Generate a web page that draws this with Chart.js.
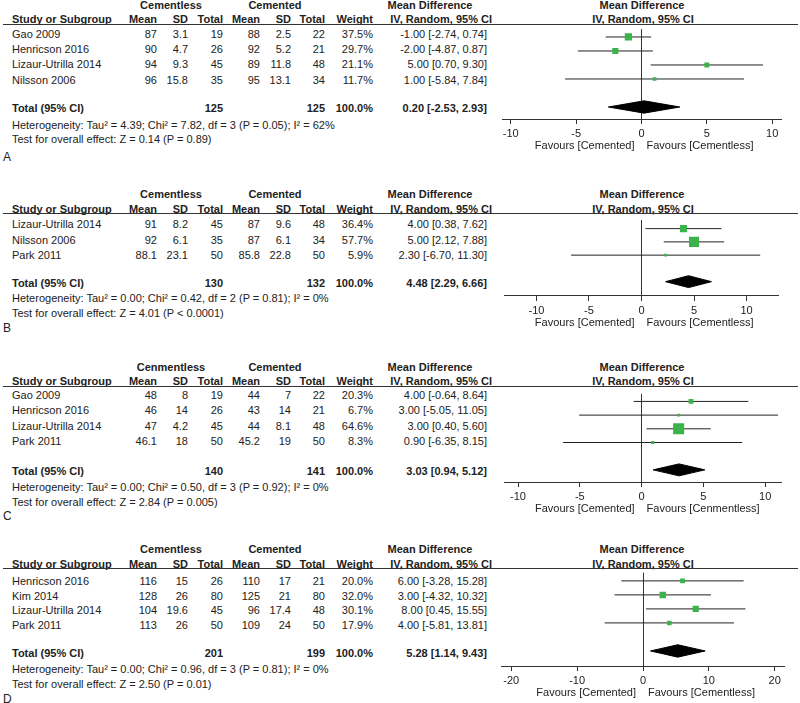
<!DOCTYPE html>
<html lang="en">
<head>
<meta charset="UTF-8">
<title>Forest plots - cementless vs cemented</title>
<script src="https://cdn.jsdelivr.net/npm/chart.js"></script>
<style>
    body { margin: 0; background: #fff; }
    #page { position: relative; width: 800px; height: 703px; overflow: hidden;
            font-family: "Liberation Sans", Arial, sans-serif; font-size: 11px; color: #222; }
    #page span { position: absolute; white-space: nowrap; line-height: 1; }
    #page span.b { font-weight: bold; }
    #page canvas { position: absolute; }
    .rule { position: absolute; left: 3px; width: 795px; height: 1px; background: #333; }
</style>
</head>
<body>
<div id="page"></div>
<script>
    // ---- panel A ----
    var studyA = ['Gao 2009', 'Henricson 2016', 'Lizaur-Utrilla 2014', 'Nilsson 2006'];
    var mean1A = [87, 90, 94, 96];
    var sd1A = [3.1, 4.7, 9.3, 15.8];
    var n1A = [19, 26, 45, 35];
    var mean2A = [88, 92, 89, 95];
    var sd2A = [2.5, 5.2, 11.8, 13.1];
    var n2A = [22, 21, 48, 34];
    var weightA = [37.5, 29.7, 21.1, 11.7];
    var mdA = [-1.00, -2.00, 5.00, 1.00];
    var lowA = [-2.74, -4.87, 0.70, -5.84];
    var highA = [0.74, 0.87, 9.30, 7.84];
    var totalA = [0.20, -2.53, 2.93];
    var totalNA = [125, 125];
    var groupA = ['Cementless', 'Cemented'];
    var favoursA = ['Favours [Cemented]', 'Favours [Cementless]'];
    var ticksA = [-10, -5, 0, 5, 10];
    var hetA = 'Heterogeneity: Tau\u00b2 = 4.39; Chi\u00b2 = 7.82, df = 3 (P = 0.05); I\u00b2 = 62%';
    var testA = 'Test for overall effect: Z = 0.14 (P = 0.89)';

    // ---- panel B ----
    var studyB = ['Lizaur-Utrilla 2014', 'Nilsson 2006', 'Park 2011'];
    var mean1B = [91, 92, 88.1];
    var sd1B = [8.2, 6.1, 23.1];
    var n1B = [45, 35, 50];
    var mean2B = [87, 87, 85.8];
    var sd2B = [9.6, 6.1, 22.8];
    var n2B = [48, 34, 50];
    var weightB = [36.4, 57.7, 5.9];
    var mdB = [4.00, 5.00, 2.30];
    var lowB = [0.38, 2.12, -6.70];
    var highB = [7.62, 7.88, 11.30];
    var totalB = [4.48, 2.29, 6.66];
    var totalNB = [130, 132];
    var groupB = ['Cementless', 'Cemented'];
    var favoursB = ['Favours [Cemented]', 'Favours [Cementless]'];
    var ticksB = [-10, -5, 0, 5, 10];
    var hetB = 'Heterogeneity: Tau\u00b2 = 0.00; Chi\u00b2 = 0.42, df = 2 (P = 0.81); I\u00b2 = 0%';
    var testB = 'Test for overall effect: Z = 4.01 (P < 0.0001)';

    // ---- panel C ----
    var studyC = ['Gao 2009', 'Henricson 2016', 'Lizaur-Utrilla 2014', 'Park 2011'];
    var mean1C = [48, 46, 47, 46.1];
    var sd1C = [8, 14, 4.2, 18];
    var n1C = [19, 26, 45, 50];
    var mean2C = [44, 43, 44, 45.2];
    var sd2C = [7, 14, 8.1, 19];
    var n2C = [22, 21, 48, 50];
    var weightC = [20.3, 6.7, 64.6, 8.3];
    var mdC = [4.00, 3.00, 3.00, 0.90];
    var lowC = [-0.64, -5.05, 0.40, -6.35];
    var highC = [8.64, 11.05, 5.60, 8.15];
    var totalC = [3.03, 0.94, 5.12];
    var totalNC = [140, 141];
    var groupC = ['Cenmentless', 'Cemented'];
    var favoursC = ['Favours [Cemented]', 'Favours [Cenmentless]'];
    var ticksC = [-10, -5, 0, 5, 10];
    var hetC = 'Heterogeneity: Tau\u00b2 = 0.00; Chi\u00b2 = 0.50, df = 3 (P = 0.92); I\u00b2 = 0%';
    var testC = 'Test for overall effect: Z = 2.84 (P = 0.005)';

    // ---- panel D ----
    var studyD = ['Henricson 2016', 'Kim 2014', 'Lizaur-Utrilla 2014', 'Park 2011'];
    var mean1D = [116, 128, 104, 113];
    var sd1D = [15, 26, 19.6, 26];
    var n1D = [26, 80, 45, 50];
    var mean2D = [110, 125, 96, 109];
    var sd2D = [17, 21, 17.4, 24];
    var n2D = [21, 80, 48, 50];
    var weightD = [20.0, 32.0, 30.1, 17.9];
    var mdD = [6.00, 3.00, 8.00, 4.00];
    var lowD = [-3.28, -4.32, 0.45, -5.81];
    var highD = [15.28, 10.32, 15.55, 13.81];
    var totalD = [5.28, 1.14, 9.43];
    var totalND = [201, 199];
    var groupD = ['Cementless', 'Cemented'];
    var favoursD = ['Favours [Cemented]', 'Favours [Cementless]'];
    var ticksD = [-20, -10, 0, 10, 20];
    var hetD = 'Heterogeneity: Tau\u00b2 = 0.00; Chi\u00b2 = 0.96, df = 3 (P = 0.81); I\u00b2 = 0%';
    var testD = 'Test for overall effect: Z = 2.50 (P = 0.01)';

    var FONT = '"Liberation Sans", Arial, sans-serif';
    var GREEN = '#3bb34a';
    var page = document.getElementById('page');

    // where each panel sits on the page (pixels)
    var layoutA = { letter: 'A', h1: 5, h2: 19, line: 24, row0: 34, gap: 15.2, total: 108, het: 125, test: 139, lab: 157,
                    axis: 119, plotRow0: 32.3, unit: 14.8, xMin: -10.66, xMax: 10.74, width: 290 };
    var layoutB = { letter: 'B', h1: 194, h2: 209, line: 213, row0: 224, gap: 15.5, total: 283, het: 298, test: 313, lab: 328,
                    axis: 296, plotRow0: 222.3, unit: 14.5, xMin: -13.08, xMax: 13.08, width: 289 };
    var layoutC = { letter: 'C', h1: 367, h2: 381, line: 386, row0: 395, gap: 15.3, total: 471, het: 487, test: 502, lab: 516,
                    axis: 482, plotRow0: 394.3, unit: 14.9, xMin: -11.07, xMax: 11.30, width: 292 };
    var layoutD = { letter: 'D', h1: 549, h2: 564, line: 568, row0: 581, gap: 14.7, total: 653, het: 669, test: 684, lab: 699,
                    axis: 666, plotRow0: 576.7, unit: 14.7, xMin: -21.47, xMax: 21.47, width: 292 };

    var col = { name: 12, m1: 157, sd1: 188, n1: 223, m2: 260, sd2: 291, n2: 325, w: 373, ci: 487 };

    function put(txt, x, y, align, bold, size) {
        var s = document.createElement('span');
        s.textContent = txt;
        s.style.left = x + 'px';
        s.style.top = y + 'px';
        var tx = align === 'right' ? '-100%' : (align === 'center' ? '-50%' : '0');
        s.style.transform = 'translate(' + tx + ',-50%)';
        if (bold) s.className = 'b';
        if (size) s.style.fontSize = size + 'px';
        page.appendChild(s);
    }

    function ciText(md, lo, hi) {
        return md.toFixed(2) + ' [' + lo.toFixed(2) + ', ' + hi.toFixed(2) + ']';
    }

    function drawPanel(p, L) {
        // table header
        put(p.group[0], 171, L.h1, 'center', true);
        put(p.group[1], 275, L.h1, 'center', true);
        put('Mean Difference', 430, L.h1, 'center', true);
        put('Mean Difference', 642, L.h1, 'center', true);
        put('Study or Subgroup', col.name, L.h2, 'left', true);
        put('Mean', col.m1, L.h2, 'right', true);
        put('SD', col.sd1, L.h2, 'right', true);
        put('Total', col.n1, L.h2, 'right', true);
        put('Mean', col.m2, L.h2, 'right', true);
        put('SD', col.sd2, L.h2, 'right', true);
        put('Total', col.n2, L.h2, 'right', true);
        put('Weight', col.w, L.h2, 'right', true);
        put('IV, Random, 95% CI', 492, L.h2, 'right', true);
        put('IV, Random, 95% CI', 643, L.h2, 'center', true);

        var rule = document.createElement('div');
        rule.className = 'rule';
        rule.style.top = L.line + 'px';
        page.appendChild(rule);

        // study rows
        for (var i = 0; i < p.study.length; i++) {
            var y = L.row0 + i * L.gap;
            put(p.study[i], col.name, y, 'left');
            put(String(p.mean1[i]), col.m1, y, 'right');
            put(String(p.sd1[i]), col.sd1, y, 'right');
            put(String(p.n1[i]), col.n1, y, 'right');
            put(String(p.mean2[i]), col.m2, y, 'right');
            put(String(p.sd2[i]), col.sd2, y, 'right');
            put(String(p.n2[i]), col.n2, y, 'right');
            put(p.weight[i].toFixed(1) + '%', col.w, y, 'right');
            put(ciText(p.md[i], p.low[i], p.high[i]), col.ci, y, 'right');
        }

        // total + footnotes
        put('Total (95% CI)', col.name, L.total, 'left', true);
        put(String(p.totalN[0]), col.n1, L.total, 'right', true);
        put(String(p.totalN[1]), col.n2, L.total, 'right', true);
        put('100.0%', col.w, L.total, 'right', true);
        put(ciText(p.total[0], p.total[1], p.total[2]), col.ci, L.total, 'right', true);
        put(p.het, col.name, L.het, 'left');
        put(p.test, col.name, L.test, 'left');
        put(L.letter, 3, L.lab, 'left', false, 12);

        // forest plot
        var chartH = L.axis - L.line;
        var canvas = document.createElement('canvas');
        canvas.width = L.width;
        canvas.height = chartH + 36;
        canvas.style.left = '497px';
        canvas.style.top = L.line + 'px';
        page.appendChild(canvas);

        var yMin = -(L.plotRow0 - L.line) / L.unit;
        var yMax = yMin + chartH / L.unit;
        var totalRow = p.study.length + 1;
        var half = 6.5 / L.unit;

        var squares = [];
        var sizes = [];
        for (var k = 0; k < p.study.length; k++) {
            squares.push({ x: p.md[k], y: k });
            sizes.push((2 + 0.14 * p.weight[k]) / Math.SQRT2);
        }

        var datasets = [{
            data: squares,
            pointStyle: 'rect',
            pointRadius: sizes,
            backgroundColor: GREEN,
            borderColor: GREEN,
            borderWidth: 0
        }];
        for (var j = 0; j < p.study.length; j++) {
            datasets.push({
                data: [{ x: p.low[j], y: j }, { x: p.high[j], y: j }],
                showLine: true,
                borderColor: '#222',
                borderWidth: 1,
                pointRadius: 0
            });
        }
        datasets.push({
            data: [
                { x: p.total[1], y: totalRow },
                { x: p.total[0], y: totalRow - half },
                { x: p.total[2], y: totalRow },
                { x: p.total[0], y: totalRow + half },
                { x: p.total[1], y: totalRow }
            ],
            showLine: true,
            fill: 'shape',
            tension: 0,
            borderColor: '#000',
            backgroundColor: '#000',
            borderWidth: 1,
            pointRadius: 0
        });

        var favours = {
            id: 'favours',
            afterDraw: function (chart) {
                var ctx = chart.ctx;
                var x0 = chart.scales.x.getPixelForValue(0);
                var yy = chart.chartArea.bottom + 27;
                ctx.save();
                ctx.font = '11px ' + FONT;
                ctx.fillStyle = '#222';
                ctx.textBaseline = 'middle';
                ctx.textAlign = 'right';
                ctx.fillText(p.favours[0], x0 - 7, yy);
                ctx.textAlign = 'left';
                ctx.fillText(p.favours[1], x0 + 5, yy);
                ctx.restore();
            }
        };

        return new Chart(canvas.getContext('2d'), {
            type: 'scatter',
            data: { datasets: datasets },
            options: {
                responsive: false,
                animation: false,
                events: [],
                layout: { padding: 0 },
                plugins: { legend: { display: false }, tooltip: { enabled: false } },
                scales: {
                    x: {
                        type: 'linear',
                        min: L.xMin,
                        max: L.xMax,
                        afterBuildTicks: function (s) {
                            s.ticks = p.ticks.map(function (v) { return { value: v }; });
                        },
                        afterFit: function (s) {
                            s.height = 36;
                            s.paddingLeft = 0;
                            s.paddingRight = 0;
                        },
                        grid: {
                            color: function (c) { return c.tick && c.tick.value === 0 ? '#333' : 'rgba(0,0,0,0)'; },
                            tickColor: '#333',
                            tickLength: 5,
                            lineWidth: 1
                        },
                        border: { color: '#333', width: 1 },
                        ticks: { color: '#222', font: { family: FONT, size: 11 }, padding: 3, maxRotation: 0, autoSkip: false }
                    },
                    y: { display: false, reverse: true, min: yMin, max: yMax }
                }
            },
            plugins: [favours]
        });
    }

    drawPanel({ study: studyA, mean1: mean1A, sd1: sd1A, n1: n1A, mean2: mean2A, sd2: sd2A, n2: n2A,
                weight: weightA, md: mdA, low: lowA, high: highA, total: totalA, totalN: totalNA,
                group: groupA, favours: favoursA, ticks: ticksA, het: hetA, test: testA }, layoutA);
    drawPanel({ study: studyB, mean1: mean1B, sd1: sd1B, n1: n1B, mean2: mean2B, sd2: sd2B, n2: n2B,
                weight: weightB, md: mdB, low: lowB, high: highB, total: totalB, totalN: totalNB,
                group: groupB, favours: favoursB, ticks: ticksB, het: hetB, test: testB }, layoutB);
    drawPanel({ study: studyC, mean1: mean1C, sd1: sd1C, n1: n1C, mean2: mean2C, sd2: sd2C, n2: n2C,
                weight: weightC, md: mdC, low: lowC, high: highC, total: totalC, totalN: totalNC,
                group: groupC, favours: favoursC, ticks: ticksC, het: hetC, test: testC }, layoutC);
    drawPanel({ study: studyD, mean1: mean1D, sd1: sd1D, n1: n1D, mean2: mean2D, sd2: sd2D, n2: n2D,
                weight: weightD, md: mdD, low: lowD, high: highD, total: totalD, totalN: totalND,
                group: groupD, favours: favoursD, ticks: ticksD, het: hetD, test: testD }, layoutD);
</script>
</body>
</html>
